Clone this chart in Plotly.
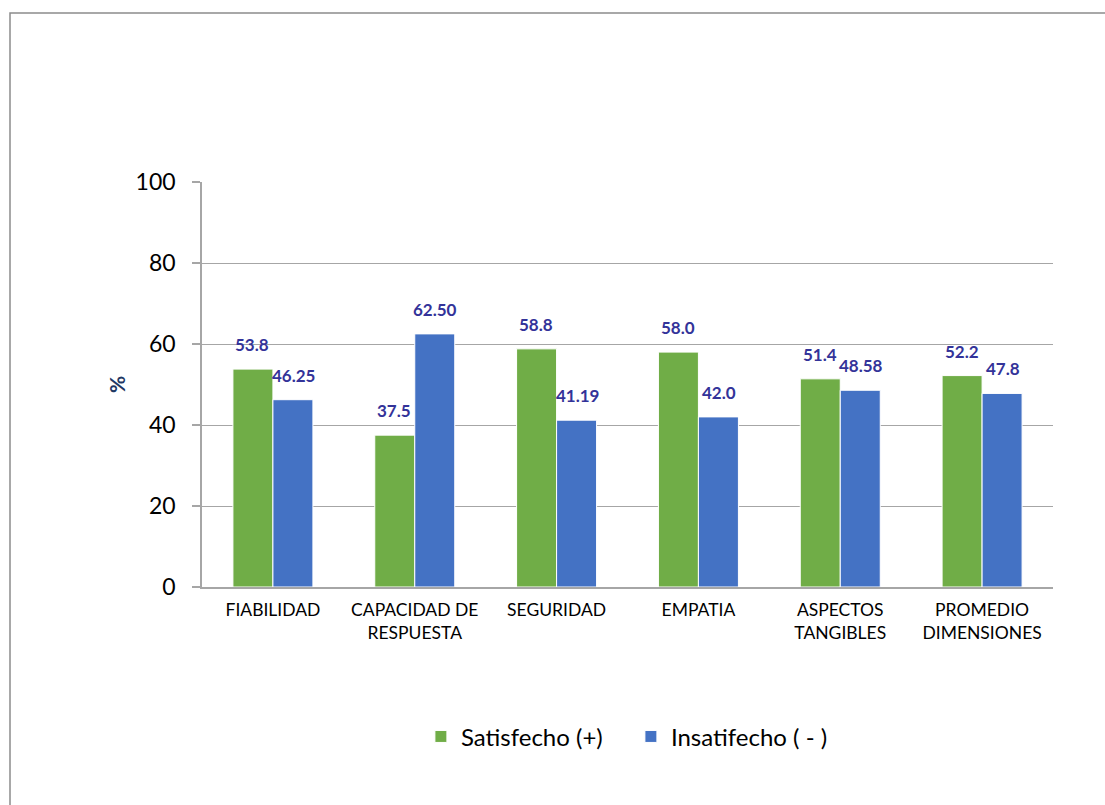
import plotly.graph_objects as go

categories = ["FIABILIDAD", "CAPACIDAD DE<br>RESPUESTA", "SEGURIDAD", "EMPATIA",
              "ASPECTOS<br>TANGIBLES", "PROMEDIO<br>DIMENSIONES"]
satisfecho = [53.8, 37.5, 58.8, 58.0, 51.4, 52.2]
insatisfecho = [46.25, 62.50, 41.19, 42.0, 48.58, 47.8]
sat_labels = ["53.8", "37.5", "58.8", "58.0", "51.4", "52.2"]
ins_labels = ["46.25", "62.50", "41.19", "42.0", "48.58", "47.8"]
y_ticks = [0, 20, 40, 60, 80, 100]

FONT = "Lato"
GREEN = "#70ad47"
BLUE = "#4472c4"
LABEL = "#333399"

fig = go.Figure()
fig.add_trace(go.Bar(name="Satisfecho (+)", x=categories, y=satisfecho,
                     marker=dict(color=GREEN, line=dict(color="white", width=1))))
fig.add_trace(go.Bar(name="Insatifecho ( - )", x=categories, y=insatisfecho,
                     marker=dict(color=BLUE, line=dict(color="white", width=1))))

W, H = 1105, 805
L, R, T, B = 202, 52, 182, 218
pw = W - L - R
ph = H - T - B

annotations = []
for i, c in enumerate(categories):
    for vals, labs, xs in ((satisfecho, sat_labels, -20.5), (insatisfecho, ins_labels, 20.5)):
        annotations.append(dict(x=c, y=vals[i], text="<b>%s</b>" % labs[i], showarrow=False,
                                xref="x", yref="y", xshift=xs, yshift=12, yanchor="bottom",
                                font=dict(family=FONT, size=17, color=LABEL)))

# outer frame
x0 = (10 - L) / pw
x1 = (1110 - L) / pw
y1 = (H - B - 13) / ph
y0 = (H - B - 815) / ph

fig.update_layout(
    width=W, height=H,
    margin=dict(l=L, r=R, t=T, b=B),
    paper_bgcolor="white", plot_bgcolor="white",
    barmode="group", bargap=0.436, bargroupgap=0,
    font=dict(family=FONT, color="black"),
    showlegend=True,
    legend=dict(orientation="h", x=0.504, xanchor="center", y=-0.37, yanchor="middle",
                font=dict(family=FONT, size=24, color="black"), itemwidth=30,
                entrywidth=165),
    annotations=annotations,
    shapes=[dict(type="rect", xref="paper", yref="paper", x0=x0, x1=x1, y0=y0, y1=y1,
                 line=dict(color="#8c8c8c", width=1.5), layer="below")],
    xaxis=dict(showline=True, linecolor="#a6a6a6", linewidth=1.5, ticks="",
               tickfont=dict(family=FONT, size=17.5, color="black"), ticklabelstandoff=6),
    yaxis=dict(range=[0, 100], tickvals=y_ticks, showgrid=True, gridcolor="#a6a6a6",
               gridwidth=1.2, showline=True, linecolor="#a6a6a6", linewidth=1.5,
               ticks="outside", ticklen=8, tickcolor="#a6a6a6", tickwidth=1.5,
               tickfont=dict(family=FONT, size=23, color="black"), ticklabelstandoff=12,
               zeroline=False,
               title=dict(text="<b>%</b>", font=dict(family=FONT, size=21, color="#1f3864"),
                          standoff=4)),
)

fig.write_html("out.html")
